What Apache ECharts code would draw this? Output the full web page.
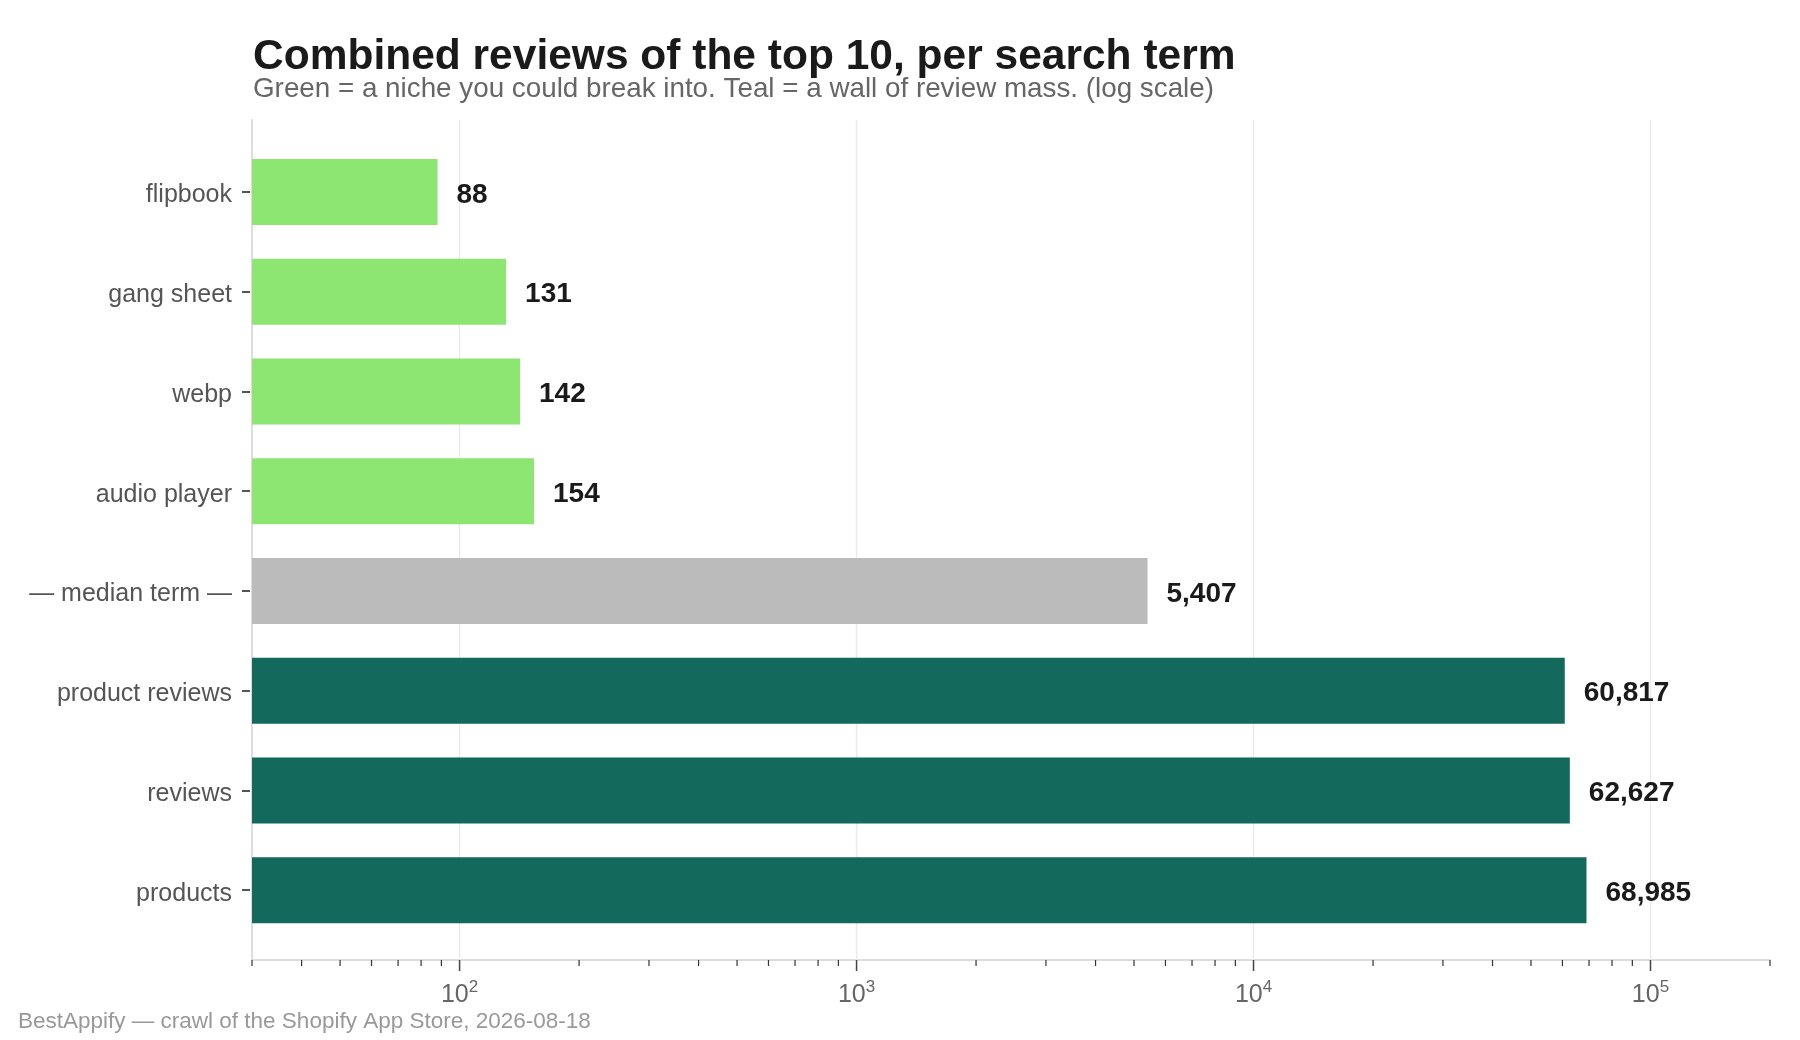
<!DOCTYPE html>
<html>
<head>
<meta charset="utf-8">
<script src="https://cdn.jsdelivr.net/npm/echarts@6/dist/echarts.min.js"></script>
<style>
html,body{margin:0;padding:0;background:#ffffff;}
#chart{width:1800px;height:1040px;}
</style>
</head>
<body>
<div id="chart"></div>
<script>
// ---- data ----
const categories = ['flipbook', 'gang sheet', 'webp', 'audio player', '— median term —', 'product reviews', 'reviews', 'products'];
const reviewTotals = [88, 131, 142, 154, 5407, 60817, 62627, 68985];
const groups = ['niche', 'niche', 'niche', 'niche', 'median', 'wall', 'wall', 'wall'];
const majorTicks = [100, 1000, 10000, 100000];
const minorTicks = [30, 40, 50, 60, 70, 80, 90,
  200, 300, 400, 500, 600, 700, 800, 900,
  2000, 3000, 4000, 5000, 6000, 7000, 8000, 9000,
  20000, 30000, 40000, 50000, 60000, 70000, 80000, 90000,
  200000];
const axisMin = 30;
const axisMax = 200000;
const titleText = 'Combined reviews of the top 10, per search term';
const subtitleText = 'Green = a niche you could break into. Teal = a wall of review mass. (log scale)';
const footerText = 'BestAppify — crawl of the Shopify App Store, 2026-08-18';

// ---- styles ----
const FONT = '"Liberation Sans", Arial, Helvetica, sans-serif';
const groupColors = { niche: '#8ee672', median: '#bbbbbb', wall: '#13695b' };

const chart = echarts.init(document.getElementById('chart'), null, { renderer: 'canvas' });

function vLineSeries(values, mode, len, color, width, z) {
  return {
    type: 'custom',
    xAxisIndex: 0,
    yAxisIndex: 0,
    silent: true,
    clip: false,
    z: z,
    data: values.map(v => [v, 0]),
    encode: { x: 0, y: 1 },
    renderItem: function (params, api) {
      const x = api.coord([api.value(0), 0])[0];
      const cs = params.coordSys;
      const bottom = cs.y + cs.height;
      const y1 = mode === 'grid' ? cs.y : bottom;
      const y2 = mode === 'grid' ? bottom : bottom + len;
      return {
        type: 'line',
        shape: { x1: x, y1: y1, x2: x, y2: y2 },
        style: { stroke: color, lineWidth: width }
      };
    }
  };
}

const option = {
  backgroundColor: '#ffffff',
  animation: false,
  textStyle: { fontFamily: FONT },
  graphic: [
    { type: 'text', x: 253, y: 57,
      style: { text: titleText, font: 'bold 42.5px ' + FONT, fill: '#1a1a1a', textVerticalAlign: 'middle', verticalAlign: 'middle' } },
    { type: 'text', x: 253, y: 89,
      style: { text: subtitleText, font: '27.8px ' + FONT, fill: '#666666', textVerticalAlign: 'middle', verticalAlign: 'middle' } },
    { type: 'text', x: 18, y: 1022,
      style: { text: footerText, font: '22.5px ' + FONT, fill: '#999999', textVerticalAlign: 'middle', verticalAlign: 'middle' } }
  ],
  grid: [
    { left: 252, right: 30, top: 120, bottom: 80 },
    { left: 252, right: 30, top: 142, bottom: 100 }
  ],
  xAxis: [
    {
      gridIndex: 0, type: 'log', logBase: 10, min: axisMin, max: axisMax,
      axisLine: { show: true, onZero: false, lineStyle: { color: '#dddddd', width: 2 } },
      axisTick: { show: false },
      splitLine: { show: false },
      minorTick: { show: false },
      minorSplitLine: { show: false },
      axisLabel: {
        margin: 20,
        showMinLabel: true, showMaxLabel: true,
        formatter: function (value) {
          const e = Math.log10(value);
          const r = Math.round(e);
          if (Math.abs(e - r) > 1e-6) return '';
          return '{b|10}{s|' + r + '}';
        },
        rich: {
          b: { fontSize: 25, color: '#666666', fontFamily: FONT, verticalAlign: 'bottom', lineHeight: 28 },
          s: { fontSize: 17, color: '#666666', fontFamily: FONT, verticalAlign: 'bottom', lineHeight: 17, padding: [0, 0, 12, 0] }
        }
      }
    },
    {
      gridIndex: 1, type: 'log', logBase: 10, min: axisMin, max: axisMax, startValue: axisMin,
      show: false
    }
  ],
  yAxis: [
    {
      gridIndex: 0, type: 'value', min: 0, max: 1,
      axisLine: { show: true, lineStyle: { color: '#dddddd', width: 2 } },
      axisTick: { show: false }, axisLabel: { show: false }, splitLine: { show: false }
    },
    {
      gridIndex: 1, type: 'category', data: categories, inverse: true, offset: 2,
      axisLine: { show: false },
      axisTick: { show: true, alignWithLabel: true, length: 8, lineStyle: { color: '#555555', width: 2 } },
      axisLabel: {
        margin: 18,
        formatter: v => '{c|' + v + '}',
        rich: {
          c: { fontSize: 25, color: '#555555', fontFamily: FONT, lineHeight: 30, padding: [7, 0, 0, 0] }
        }
      },
      splitLine: { show: false }
    }
  ],
  series: [
    vLineSeries(majorTicks, 'grid', 0, '#ebebeb', 1.5, 1),
    {
      type: 'bar',
      xAxisIndex: 1, yAxisIndex: 1,
      barWidth: 66,
      z: 2,
      data: reviewTotals.map((v, i) => ({ value: v, itemStyle: { color: groupColors[groups[i]] } })),
      label: {
        show: true, position: 'right', distance: 19, offset: [0, 3],
        fontSize: 28, fontWeight: 'bold', color: '#1a1a1a', fontFamily: FONT,
        formatter: p => Number(p.value).toLocaleString('en-US')
      }
    },
    vLineSeries(majorTicks, 'tick', 11, '#444444', 1.5, 3),
    vLineSeries(minorTicks, 'tick', 6, '#333333', 1.2, 3)
  ]
};
chart.setOption(option);
</script>
</body>
</html>
